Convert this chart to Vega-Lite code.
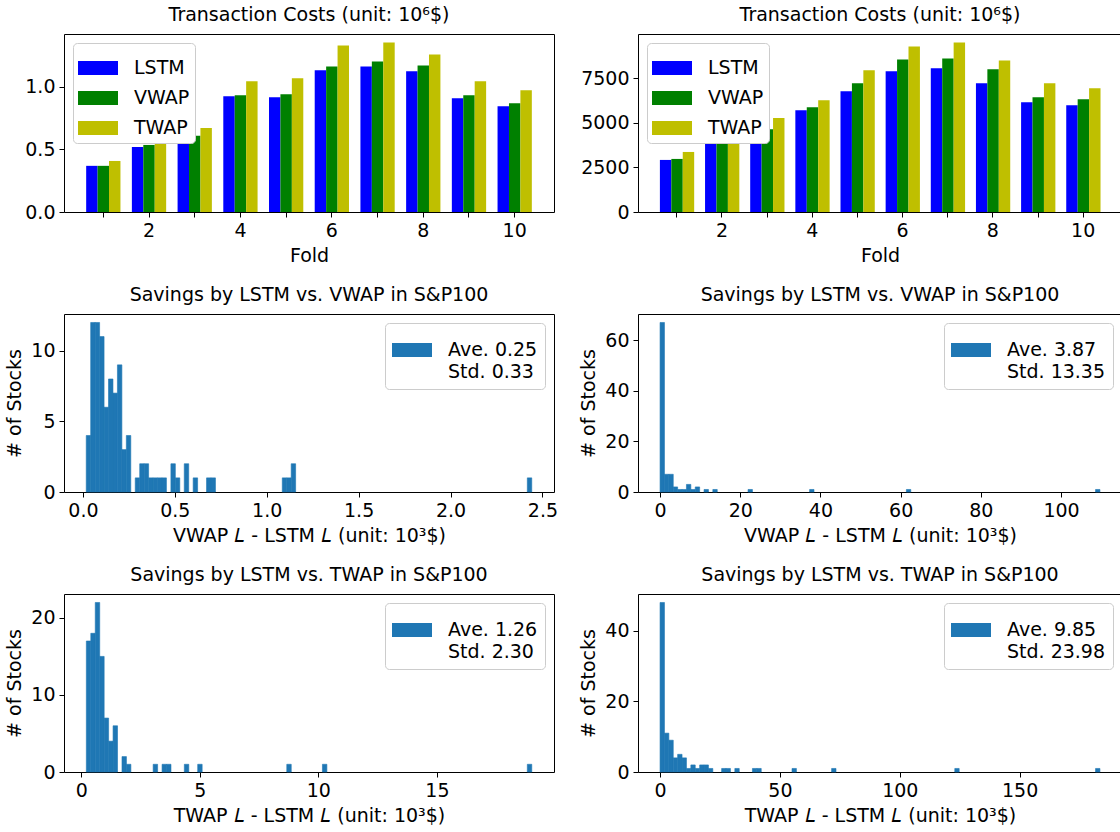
{
 "$schema": "https://vega.github.io/schema/vega-lite/v6.json",
 "padding": 5,
 "config": {
  "font": "DejaVu Sans",
  "view": {"stroke": "black", "strokeWidth": 1},
  "title": {"fontSize": 19, "fontWeight": "normal", "color": "black", "offset": 9, "font": "DejaVu Sans"},
  "axis": {"labelFontSize": 19, "titleFontSize": 19, "titleFontWeight": "normal", "labelColor": "black", "titleColor": "black", "domainColor": "black", "tickColor": "black", "tickSize": 5, "labelPadding": 4, "grid": false, "labelFont": "DejaVu Sans", "titleFont": "DejaVu Sans", "titlePadding": 6},
  "axisX": {"labelAngle": 0},
  "legend": {"labelFontSize": 19, "labelFont": "DejaVu Sans", "labelColor": "black"},
  "style": {"guide-label": {"lineHeight": 22}}
 },
 "datasets": {
  "costs_left": [
   {"fold": 1, "method": "LSTM", "cost": 0.369}, {"fold": 1, "method": "VWAP", "cost": 0.369}, {"fold": 1, "method": "TWAP", "cost": 0.408},
   {"fold": 2, "method": "LSTM", "cost": 0.520}, {"fold": 2, "method": "VWAP", "cost": 0.536}, {"fold": 2, "method": "TWAP", "cost": 0.62},
   {"fold": 3, "method": "LSTM", "cost": 0.592}, {"fold": 3, "method": "VWAP", "cost": 0.61}, {"fold": 3, "method": "TWAP", "cost": 0.671},
   {"fold": 4, "method": "LSTM", "cost": 0.926}, {"fold": 4, "method": "VWAP", "cost": 0.934}, {"fold": 4, "method": "TWAP", "cost": 1.045},
   {"fold": 5, "method": "LSTM", "cost": 0.918}, {"fold": 5, "method": "VWAP", "cost": 0.942}, {"fold": 5, "method": "TWAP", "cost": 1.069},
   {"fold": 6, "method": "LSTM", "cost": 1.133}, {"fold": 6, "method": "VWAP", "cost": 1.164}, {"fold": 6, "method": "TWAP", "cost": 1.332},
   {"fold": 7, "method": "LSTM", "cost": 1.164}, {"fold": 7, "method": "VWAP", "cost": 1.204}, {"fold": 7, "method": "TWAP", "cost": 1.355},
   {"fold": 8, "method": "LSTM", "cost": 1.125}, {"fold": 8, "method": "VWAP", "cost": 1.172}, {"fold": 8, "method": "TWAP", "cost": 1.260},
   {"fold": 9, "method": "LSTM", "cost": 0.910}, {"fold": 9, "method": "VWAP", "cost": 0.934}, {"fold": 9, "method": "TWAP", "cost": 1.045},
   {"fold": 10, "method": "LSTM", "cost": 0.846}, {"fold": 10, "method": "VWAP", "cost": 0.870}, {"fold": 10, "method": "TWAP", "cost": 0.973}
  ],
  "costs_right": [
   {"fold": 1, "method": "LSTM", "cost": 2922}, {"fold": 1, "method": "VWAP", "cost": 2978}, {"fold": 1, "method": "TWAP", "cost": 3369},
   {"fold": 2, "method": "LSTM", "cost": 4450}, {"fold": 2, "method": "VWAP", "cost": 4550}, {"fold": 2, "method": "TWAP", "cost": 5000},
   {"fold": 3, "method": "LSTM", "cost": 4500}, {"fold": 3, "method": "VWAP", "cost": 4650}, {"fold": 3, "method": "TWAP", "cost": 5268},
   {"fold": 4, "method": "LSTM", "cost": 5715}, {"fold": 4, "method": "VWAP", "cost": 5882}, {"fold": 4, "method": "TWAP", "cost": 6273},
   {"fold": 5, "method": "LSTM", "cost": 6776}, {"fold": 5, "method": "VWAP", "cost": 7223}, {"fold": 5, "method": "TWAP", "cost": 7949},
   {"fold": 6, "method": "LSTM", "cost": 7893}, {"fold": 6, "method": "VWAP", "cost": 8563}, {"fold": 6, "method": "TWAP", "cost": 9289},
   {"fold": 7, "method": "LSTM", "cost": 8061}, {"fold": 7, "method": "VWAP", "cost": 8619}, {"fold": 7, "method": "TWAP", "cost": 9512},
   {"fold": 8, "method": "LSTM", "cost": 7223}, {"fold": 8, "method": "VWAP", "cost": 8005}, {"fold": 8, "method": "TWAP", "cost": 8507},
   {"fold": 9, "method": "LSTM", "cost": 6162}, {"fold": 9, "method": "VWAP", "cost": 6441}, {"fold": 9, "method": "TWAP", "cost": 7223},
   {"fold": 10, "method": "LSTM", "cost": 5995}, {"fold": 10, "method": "VWAP", "cost": 6329}, {"fold": 10, "method": "TWAP", "cost": 6944}
  ],
  "vwap_left": [
   {"x0": 0.0180, "x1": 0.0422, "count": 4}, {"x0": 0.0422, "x1": 0.0665, "count": 12}, {"x0": 0.0665, "x1": 0.0907, "count": 12},
   {"x0": 0.0907, "x1": 0.1150, "count": 11}, {"x0": 0.1150, "x1": 0.1392, "count": 6}, {"x0": 0.1392, "x1": 0.1634, "count": 8},
   {"x0": 0.1634, "x1": 0.1877, "count": 7}, {"x0": 0.1877, "x1": 0.2119, "count": 9}, {"x0": 0.2119, "x1": 0.2362, "count": 3},
   {"x0": 0.2362, "x1": 0.2604, "count": 4}, {"x0": 0.2846, "x1": 0.3089, "count": 1}, {"x0": 0.3089, "x1": 0.3331, "count": 2},
   {"x0": 0.3331, "x1": 0.3574, "count": 2}, {"x0": 0.3574, "x1": 0.3816, "count": 1}, {"x0": 0.3816, "x1": 0.4058, "count": 1},
   {"x0": 0.4058, "x1": 0.4301, "count": 1}, {"x0": 0.4301, "x1": 0.4543, "count": 1}, {"x0": 0.4786, "x1": 0.5028, "count": 2},
   {"x0": 0.5028, "x1": 0.5270, "count": 1}, {"x0": 0.5513, "x1": 0.5755, "count": 2}, {"x0": 0.5998, "x1": 0.6240, "count": 1},
   {"x0": 0.6725, "x1": 0.6967, "count": 1}, {"x0": 0.6967, "x1": 0.7210, "count": 1}, {"x0": 1.0846, "x1": 1.1088, "count": 1},
   {"x0": 1.1088, "x1": 1.1331, "count": 1}, {"x0": 1.1331, "x1": 1.1573, "count": 2}, {"x0": 2.4178, "x1": 2.4420, "count": 1}
  ],
  "twap_left": [
   {"x0": 0.2125, "x1": 0.4004, "count": 17}, {"x0": 0.4004, "x1": 0.5883, "count": 18}, {"x0": 0.5883, "x1": 0.7762, "count": 22},
   {"x0": 0.7762, "x1": 0.9641, "count": 15}, {"x0": 0.9641, "x1": 1.1520, "count": 7}, {"x0": 1.1520, "x1": 1.3399, "count": 4},
   {"x0": 1.3399, "x1": 1.5278, "count": 6}, {"x0": 1.7157, "x1": 1.9036, "count": 2}, {"x0": 1.9036, "x1": 2.0915, "count": 1},
   {"x0": 3.0310, "x1": 3.2189, "count": 1}, {"x0": 3.4068, "x1": 3.5947, "count": 1}, {"x0": 3.5947, "x1": 3.7826, "count": 1},
   {"x0": 4.3463, "x1": 4.5342, "count": 1}, {"x0": 4.9100, "x1": 5.0979, "count": 1}, {"x0": 8.6680, "x1": 8.8559, "count": 1},
   {"x0": 10.1712, "x1": 10.3591, "count": 1}, {"x0": 18.8146, "x1": 19.0025, "count": 1}
  ],
  "vwap_right": [
   {"x0": 0.0, "x1": 1.097, "count": 67}, {"x0": 1.097, "x1": 2.194, "count": 7}, {"x0": 2.194, "x1": 3.291, "count": 7},
   {"x0": 3.291, "x1": 4.388, "count": 2}, {"x0": 4.388, "x1": 5.485, "count": 1}, {"x0": 5.485, "x1": 6.582, "count": 1},
   {"x0": 6.582, "x1": 7.679, "count": 3}, {"x0": 7.679, "x1": 8.776, "count": 1}, {"x0": 8.776, "x1": 9.873, "count": 2},
   {"x0": 10.97, "x1": 12.067, "count": 1}, {"x0": 13.164, "x1": 14.261, "count": 1}, {"x0": 21.94, "x1": 23.037, "count": 1},
   {"x0": 37.298, "x1": 38.395, "count": 1}, {"x0": 61.432, "x1": 62.529, "count": 1}, {"x0": 108.603, "x1": 109.7, "count": 1}
  ],
  "twap_right": [
   {"x0": 0.0, "x1": 1.835, "count": 48}, {"x0": 1.835, "x1": 3.67, "count": 11}, {"x0": 3.67, "x1": 5.505, "count": 9},
   {"x0": 5.505, "x1": 7.34, "count": 4}, {"x0": 7.34, "x1": 9.175, "count": 5}, {"x0": 9.175, "x1": 11.01, "count": 4},
   {"x0": 11.01, "x1": 12.845, "count": 1}, {"x0": 12.845, "x1": 14.68, "count": 2}, {"x0": 14.68, "x1": 16.515, "count": 1},
   {"x0": 16.515, "x1": 18.35, "count": 2}, {"x0": 18.35, "x1": 20.185, "count": 2}, {"x0": 20.185, "x1": 22.02, "count": 1},
   {"x0": 25.69, "x1": 27.525, "count": 1}, {"x0": 27.525, "x1": 29.36, "count": 1}, {"x0": 31.195, "x1": 33.03, "count": 1},
   {"x0": 38.535, "x1": 40.37, "count": 1}, {"x0": 40.37, "x1": 42.205, "count": 1}, {"x0": 55.05, "x1": 56.885, "count": 1},
   {"x0": 71.565, "x1": 73.4, "count": 1}, {"x0": 122.945, "x1": 124.78, "count": 1}, {"x0": 181.665, "x1": 183.5, "count": 1}
  ]
 },
 "columns": 2,
 "spacing": {"row": 19, "column": 20},
 "resolve": {"scale": {"color": "independent"}, "legend": {"color": "independent"}},
 "concat": [
  {
   "width": 490, "height": 178,
   "title": "Transaction Costs (unit: 10⁶$)",
   "data": {"name": "costs_left"},
   "mark": {"type": "bar"},
   "encoding": {
    "x": {"field": "fold", "type": "ordinal", "scale": {"paddingInner": 0.25, "paddingOuter": 0.485}, "axis": {"title": "Fold", "labelAngle": 0, "labelExpr": "datum.value % 2 == 0 ? datum.label : ''", "domain": false}},
    "xOffset": {"field": "method", "type": "nominal", "sort": ["LSTM", "VWAP", "TWAP"], "scale": {"domain": ["LSTM", "VWAP", "TWAP"], "paddingInner": 0, "paddingOuter": 0}},
    "y": {"field": "cost", "type": "quantitative", "scale": {"domain": [0, 1.423], "nice": false}, "axis": {"title": null, "values": [0, 0.5, 1.0], "format": ".1f", "domain": false}},
    "color": {"field": "method", "type": "nominal", "sort": ["LSTM", "VWAP", "TWAP"], "scale": {"domain": ["LSTM", "VWAP", "TWAP"], "range": ["#0000ff", "#008000", "#bfbf00"]},
     "legend": {"orient": "top-left", "offset": 9, "title": null, "symbolType": "M-1,-0.35H1V0.35H-1Z", "symbolSize": 1600, "symbolStrokeWidth": 0, "symbolOpacity": 1, "labelOffset": 16, "fillColor": "white", "strokeColor": "#cccccc", "cornerRadius": 4, "padding": 5, "rowPadding": -11}}
   }
  },
  {
   "width": 484, "height": 178,
   "title": "Transaction Costs (unit: 10⁶$)",
   "data": {"name": "costs_right"},
   "mark": {"type": "bar"},
   "encoding": {
    "x": {"field": "fold", "type": "ordinal", "scale": {"paddingInner": 0.25, "paddingOuter": 0.485}, "axis": {"title": "Fold", "labelAngle": 0, "labelExpr": "datum.value % 2 == 0 ? datum.label : ''", "domain": false}},
    "xOffset": {"field": "method", "type": "nominal", "sort": ["LSTM", "VWAP", "TWAP"], "scale": {"domain": ["LSTM", "VWAP", "TWAP"], "paddingInner": 0, "paddingOuter": 0}},
    "y": {"field": "cost", "type": "quantitative", "scale": {"domain": [0, 9988], "nice": false}, "axis": {"title": null, "values": [0, 2500, 5000, 7500], "format": "d", "domain": false}},
    "color": {"field": "method", "type": "nominal", "sort": ["LSTM", "VWAP", "TWAP"], "scale": {"domain": ["LSTM", "VWAP", "TWAP"], "range": ["#0000ff", "#008000", "#bfbf00"]},
     "legend": {"orient": "top-left", "offset": 9, "title": null, "symbolType": "M-1,-0.35H1V0.35H-1Z", "symbolSize": 1600, "symbolStrokeWidth": 0, "symbolOpacity": 1, "labelOffset": 16, "fillColor": "white", "strokeColor": "#cccccc", "cornerRadius": 4, "padding": 5, "rowPadding": -11}}
   }
  },
  {
   "width": 490, "height": 178,
   "title": "Savings by LSTM vs. VWAP in S&P100",
   "data": {"name": "vwap_left"},
   "mark": {"type": "rect", "stroke": "#1f77b4", "strokeWidth": 0.6},
   "encoding": {
    "x": {"field": "x0", "type": "quantitative", "scale": {"domain": [-0.103, 2.563], "nice": false, "zero": false}, "axis": {"title": "VWAP 𝐿 - LSTM 𝐿 (unit: 10³$)", "values": [0, 0.5, 1, 1.5, 2, 2.5], "format": ".1f", "domain": false}},
    "x2": {"field": "x1"},
    "y": {"field": "count", "type": "quantitative", "scale": {"domain": [0, 12.6], "nice": false}, "axis": {"title": "# of Stocks", "values": [0, 5, 10], "domain": false}},
    "y2": {"datum": 0},
    "color": {"datum": "Ave. 0.25|Std. 0.33", "type": "nominal", "scale": {"range": ["#1f77b4"]},
     "legend": {"orient": "top-right", "offset": 9, "title": null, "labelExpr": "split(datum.label, '|')", "symbolType": "M-1,-0.35H1V0.35H-1Z", "symbolSize": 1600, "symbolStrokeWidth": 0, "symbolOpacity": 1, "labelOffset": 16, "fillColor": "white", "strokeColor": "#cccccc", "cornerRadius": 4, "padding": 7}}
   }
  },
  {
   "width": 484, "height": 178,
   "title": "Savings by LSTM vs. VWAP in S&P100",
   "data": {"name": "vwap_right"},
   "mark": {"type": "rect", "stroke": "#1f77b4", "strokeWidth": 0.6},
   "encoding": {
    "x": {"field": "x0", "type": "quantitative", "scale": {"domain": [-5.5, 115.2], "nice": false, "zero": false}, "axis": {"title": "VWAP 𝐿 - LSTM 𝐿 (unit: 10³$)", "values": [0, 20, 40, 60, 80, 100], "domain": false}},
    "x2": {"field": "x1"},
    "y": {"field": "count", "type": "quantitative", "scale": {"domain": [0, 70.35], "nice": false}, "axis": {"title": "# of Stocks", "values": [0, 20, 40, 60], "domain": false}},
    "y2": {"datum": 0},
    "color": {"datum": "Ave. 3.87|Std. 13.35", "type": "nominal", "scale": {"range": ["#1f77b4"]},
     "legend": {"orient": "top-right", "offset": 9, "title": null, "labelExpr": "split(datum.label, '|')", "symbolType": "M-1,-0.35H1V0.35H-1Z", "symbolSize": 1600, "symbolStrokeWidth": 0, "symbolOpacity": 1, "labelOffset": 16, "fillColor": "white", "strokeColor": "#cccccc", "cornerRadius": 4, "padding": 7}}
   }
  },
  {
   "width": 490, "height": 178,
   "title": "Savings by LSTM vs. TWAP in S&P100",
   "data": {"name": "twap_left"},
   "mark": {"type": "rect", "stroke": "#1f77b4", "strokeWidth": 0.6},
   "encoding": {
    "x": {"field": "x0", "type": "quantitative", "scale": {"domain": [-0.73, 19.94], "nice": false, "zero": false}, "axis": {"title": "TWAP 𝐿 - LSTM 𝐿 (unit: 10³$)", "values": [0, 5, 10, 15], "domain": false}},
    "x2": {"field": "x1"},
    "y": {"field": "count", "type": "quantitative", "scale": {"domain": [0, 23.1], "nice": false}, "axis": {"title": "# of Stocks", "values": [0, 10, 20], "domain": false}},
    "y2": {"datum": 0},
    "color": {"datum": "Ave. 1.26|Std. 2.30", "type": "nominal", "scale": {"range": ["#1f77b4"]},
     "legend": {"orient": "top-right", "offset": 9, "title": null, "labelExpr": "split(datum.label, '|')", "symbolType": "M-1,-0.35H1V0.35H-1Z", "symbolSize": 1600, "symbolStrokeWidth": 0, "symbolOpacity": 1, "labelOffset": 16, "fillColor": "white", "strokeColor": "#cccccc", "cornerRadius": 4, "padding": 7}}
   }
  },
  {
   "width": 484, "height": 178,
   "title": "Savings by LSTM vs. TWAP in S&P100",
   "data": {"name": "twap_right"},
   "mark": {"type": "rect", "stroke": "#1f77b4", "strokeWidth": 0.6},
   "encoding": {
    "x": {"field": "x0", "type": "quantitative", "scale": {"domain": [-9.2, 192.7], "nice": false, "zero": false}, "axis": {"title": "TWAP 𝐿 - LSTM 𝐿 (unit: 10³$)", "values": [0, 50, 100, 150], "domain": false}},
    "x2": {"field": "x1"},
    "y": {"field": "count", "type": "quantitative", "scale": {"domain": [0, 50.4], "nice": false}, "axis": {"title": "# of Stocks", "values": [0, 20, 40], "domain": false}},
    "y2": {"datum": 0},
    "color": {"datum": "Ave. 9.85|Std. 23.98", "type": "nominal", "scale": {"range": ["#1f77b4"]},
     "legend": {"orient": "top-right", "offset": 9, "title": null, "labelExpr": "split(datum.label, '|')", "symbolType": "M-1,-0.35H1V0.35H-1Z", "symbolSize": 1600, "symbolStrokeWidth": 0, "symbolOpacity": 1, "labelOffset": 16, "fillColor": "white", "strokeColor": "#cccccc", "cornerRadius": 4, "padding": 7}}
   }
  }
 ]
}
